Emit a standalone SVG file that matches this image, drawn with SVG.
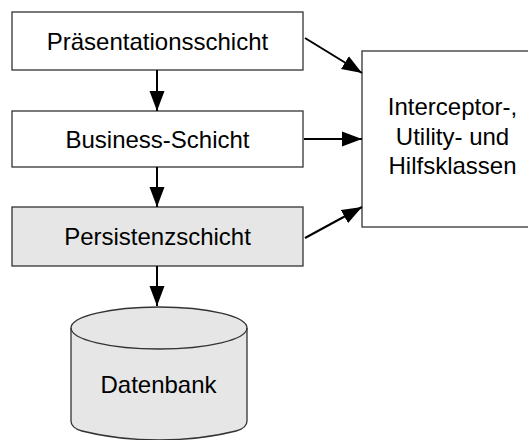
<svg xmlns="http://www.w3.org/2000/svg" width="528" height="440" viewBox="0 0 528 440">
<style>
.box{stroke:#333;stroke-width:1.3}
.w{fill:#fff}
.g{fill:#e6e6e6}
.t{font-family:"Liberation Sans",Arial,sans-serif;font-size:24px;fill:#000;text-anchor:middle}
.c{stroke:#000;stroke-width:2;fill:none;marker-end:url(#ah)}
</style>
<defs>
<marker id="ah" markerUnits="userSpaceOnUse" markerWidth="20" markerHeight="16" refX="20" refY="7.5" orient="auto" viewBox="0 0 20 15">
<path d="M0,0 L20,7.5 L0,15 Z" fill="#000"/>
</marker>
</defs>
<rect width="528" height="440" fill="#fff"/>
<g id="praesentation">
<rect class="box w" x="12" y="12" width="291" height="58"/>
<text class="t" x="157.5" y="50">Präsentationsschicht</text>
</g>
<g id="business">
<rect class="box w" x="12" y="111" width="291" height="56"/>
<text class="t" x="157.5" y="148">Business-Schicht</text>
</g>
<g id="persistenz">
<rect class="box g" x="12" y="207" width="291" height="59"/>
<text class="t" x="157.5" y="245">Persistenzschicht</text>
</g>
<g id="hilfsklassen">
<rect class="box w" x="362" y="51" width="200" height="176"/>
<text class="t" x="452.5" y="115">Interceptor-,</text>
<text class="t" x="452.5" y="145">Utility- und</text>
<text class="t" x="452.5" y="174">Hilfsklassen</text>
</g>
<g id="datenbank">
<path class="box g" d="M71,328 A88,21 0 0 1 247,328 V421 Q247,428 236,431 Q200,440 159,440 Q118,440 82,431 Q71,428 71,421 Z"/>
<path class="box" fill="none" d="M71,328 A88,21 0 0 0 247,328"/>
<text class="t" x="158.5" y="393">Datenbank</text>
</g>
<g id="connectors">
<line class="c" x1="157" y1="70" x2="157" y2="111"/>
<line class="c" x1="157" y1="167" x2="157" y2="207"/>
<line class="c" x1="157" y1="266" x2="157" y2="306"/>
<line class="c" x1="305" y1="38" x2="362" y2="73"/>
<line class="c" x1="304" y1="139" x2="362" y2="139"/>
<line class="c" x1="305" y1="238" x2="362" y2="207"/>
</g>
</svg>
